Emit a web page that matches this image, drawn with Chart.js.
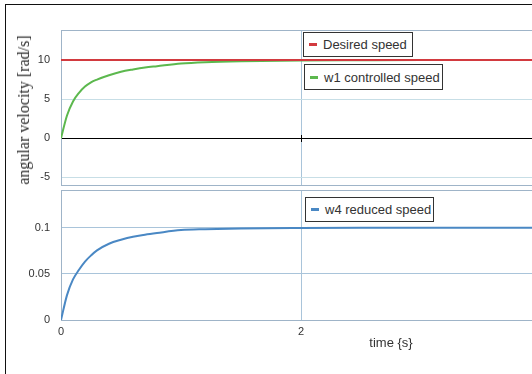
<!DOCTYPE html>
<html>
<head>
<meta charset="utf-8">
<script src="https://cdn.jsdelivr.net/npm/chart.js@4/dist/chart.umd.min.js"></script>
<style>
  html, body { margin:0; padding:0; background:#fff; width:532px; height:374px; overflow:hidden; }
  #wrap { position:relative; width:532px; height:374px; font-family:"Liberation Sans", Arial, sans-serif; color:#333; }
  #frame { position:absolute; left:5px; top:4px; width:600px; height:400px; border-left:1.5px solid #111; border-top:1.5px solid #111; }
  canvas { position:absolute; left:0; }
  #c1 { top:0; }
  #c2 { top:186px; }
  .legend { position:absolute; background:#fff; border:1px solid #333; font-size:13px; display:flex; align-items:center; box-sizing:border-box; padding:0 5px; white-space:nowrap; }
  .legend .mk { width:8px; height:3px; margin-right:6px; flex:none; }
  #ytitle { position:absolute; left:24px; top:110px; transform:translate(-50%,-50%) rotate(-90deg); font-family:"Liberation Serif", "Times New Roman", serif; font-size:16px; color:#2a2a2a; white-space:nowrap; }
  #xtitle { position:absolute; left:391px; top:342px; transform:translate(-50%,-50%); font-size:13px; color:#333; white-space:nowrap; }
</style>
</head>
<body>
<div id="wrap">
  <div id="frame"></div>
  <canvas id="c1" width="532" height="186"></canvas>
  <canvas id="c2" width="532" height="188"></canvas>
  <div id="ytitle">angular velocity [rad/s]</div>
  <div id="xtitle">time {s}</div>
</div>
<script>
// ---- data ----
const time = [0, 0.05, 0.1, 0.15, 0.2, 0.25, 0.3, 0.4, 0.5, 0.6, 0.7, 0.8, 1.0, 1.2, 1.5, 2.0, 2.5, 3.0, 3.5, 3.93];
const desiredSpeed = [10, 10, 10, 10, 10, 10, 10, 10, 10, 10, 10, 10, 10, 10, 10, 10, 10, 10, 10, 10];
const w1Speed = [0, 2.9, 4.7, 5.8, 6.6, 7.15, 7.5, 8.05, 8.5, 8.8, 9.05, 9.22, 9.55, 9.72, 9.85, 9.95, 9.98, 10, 10, 10];
const w4Speed = [0, 0.027, 0.044, 0.0545, 0.0634, 0.070, 0.0755, 0.0827, 0.087, 0.0903, 0.0925, 0.0943, 0.0975, 0.0985, 0.0993, 0.0998, 0.1, 0.1, 0.1, 0.1];
const labelsTop = ["Desired speed", "w1 controlled speed"];
const labelsBottom = ["w4 reduced speed"];
const xTicks = [0, 2];
const yTicksTop = [-5, 0, 5, 10];
const yTicksBottom = [0, 0.05, 0.1];

// ---- styles ----
const RED = '#d23a3f', GREEN = '#5cb84e', BLUE = '#4a88c4';
const GRID_TOP = '#c7dee6', GRID_V = '#a9c4da', GRID_BOT = '#a9c4da', BORDER = '#9fb4c8';
const FONT = { family: '"Liberation Sans", Arial, sans-serif', size: 11 };

const pts = (ys) => time.map((t, i) => ({ x: t, y: ys[i] }));

const framePlugin = {
  id: 'frame',
  beforeDatasetsDraw(chart, args, opts) {
    const { ctx, chartArea: a } = chart;
    ctx.save();
    ctx.strokeStyle = BORDER;
    ctx.lineWidth = 1;
    ctx.strokeRect(Math.round(a.left) + 0.5, Math.round(a.top) + 0.5, Math.round(a.right - a.left), Math.round(a.bottom - a.top));
    if (opts.zeroTicks) {
      const xs = chart.scales.x, ys = chart.scales.y;
      const y0 = Math.round(ys.getPixelForValue(0));
      ctx.strokeStyle = '#000';
      xTicks.forEach(v => {
        if (v === 0) return;
        const px = Math.round(xs.getPixelForValue(v)) + 0.5;
        ctx.beginPath(); ctx.moveTo(px, y0 - 3); ctx.lineTo(px, y0 + 4); ctx.stroke();
      });
    }
    ctx.restore();
  }
};

const lineDs = (label, data, color, order) => ({
  label, data: pts(data), borderColor: color, backgroundColor: color,
  borderWidth: 2, pointRadius: 0, tension: 0, cubicInterpolationMode: 'monotone', fill: false, order
});

const fmt = v => String(v);

const xScale = (showTicks, h) => ({
  type: 'linear', min: 0, max: 3.925,
  afterBuildTicks: s => { s.ticks = xTicks.map(v => ({ value: v })); },
  afterFit: s => { s.height = h; s.paddingLeft = 0; s.paddingRight = 0; },
  grid: { color: c => c.tick && c.tick.value === 0 ? 'rgba(0,0,0,0)' : GRID_V, drawTicks: false, lineWidth: 1 },
  border: { display: false },
  ticks: { display: showTicks, color: '#333', font: FONT, padding: 5, maxRotation: 0, callback: fmt }
});

const yFit = s => { s.width = 61; s.paddingTop = 0; s.paddingBottom = 0; };

new Chart(document.getElementById('c1'), {
  type: 'line',
  data: { datasets: [
    lineDs(labelsTop[0], desiredSpeed, RED, 0),
    lineDs(labelsTop[1], w1Speed, GREEN, 1)
  ] },
  plugins: [framePlugin],
  options: {
    responsive: false, animation: false,
    layout: { padding: { top: 30, bottom: 1, left: 0, right: 0 } },
    plugins: { legend: { display: false }, tooltip: { enabled: false }, frame: { zeroTicks: true } },
    scales: {
      x: xScale(false, 0),
      y: {
        min: -6, max: 13.85,
        afterBuildTicks: s => { s.ticks = yTicksTop.map(v => ({ value: v })); },
        afterFit: yFit,
        grid: { color: c => c.tick && c.tick.value === 0 ? '#000' : GRID_TOP, drawTicks: false },
        border: { display: false },
        ticks: { color: '#333', font: FONT, padding: 11, callback: fmt }
      }
    }
  }
});

new Chart(document.getElementById('c2'), {
  type: 'line',
  data: { datasets: [ lineDs(labelsBottom[0], w4Speed, BLUE, 0) ] },
  plugins: [framePlugin],
  options: {
    responsive: false, animation: false,
    layout: { padding: { top: 4, bottom: 0, left: 0, right: 0 } },
    plugins: { legend: { display: false }, tooltip: { enabled: false }, frame: { zeroTicks: false } },
    scales: {
      x: xScale(true, 54),
      y: {
        min: 0, max: 0.141,
        afterBuildTicks: s => { s.ticks = yTicksBottom.map(v => ({ value: v })); },
        afterFit: yFit,
        grid: { color: GRID_BOT, drawTicks: false },
        border: { display: false },
        ticks: { color: '#333', font: FONT, padding: 11, callback: fmt }
      }
    }
  }
});

// ---- legend boxes (text from the label arrays) ----
const legendSpecs = [
  { label: labelsTop[0], color: RED, left: 303, top: 32, w: 110, h: 25 },
  { label: labelsTop[1], color: GREEN, left: 304, top: 64, w: 139, h: 26 },
  { label: labelsBottom[0], color: BLUE, left: 305, top: 197, w: 129, h: 25 }
];
const wrap = document.getElementById('wrap');
legendSpecs.forEach(s => {
  const d = document.createElement('div');
  d.className = 'legend';
  d.style.left = s.left + 'px'; d.style.top = s.top + 'px';
  d.style.width = s.w + 'px'; d.style.height = s.h + 'px';
  const mk = document.createElement('span'); mk.className = 'mk'; mk.style.background = s.color;
  const tx = document.createElement('span'); tx.textContent = s.label;
  d.appendChild(mk); d.appendChild(tx);
  wrap.appendChild(d);
});
</script>
</body>
</html>
